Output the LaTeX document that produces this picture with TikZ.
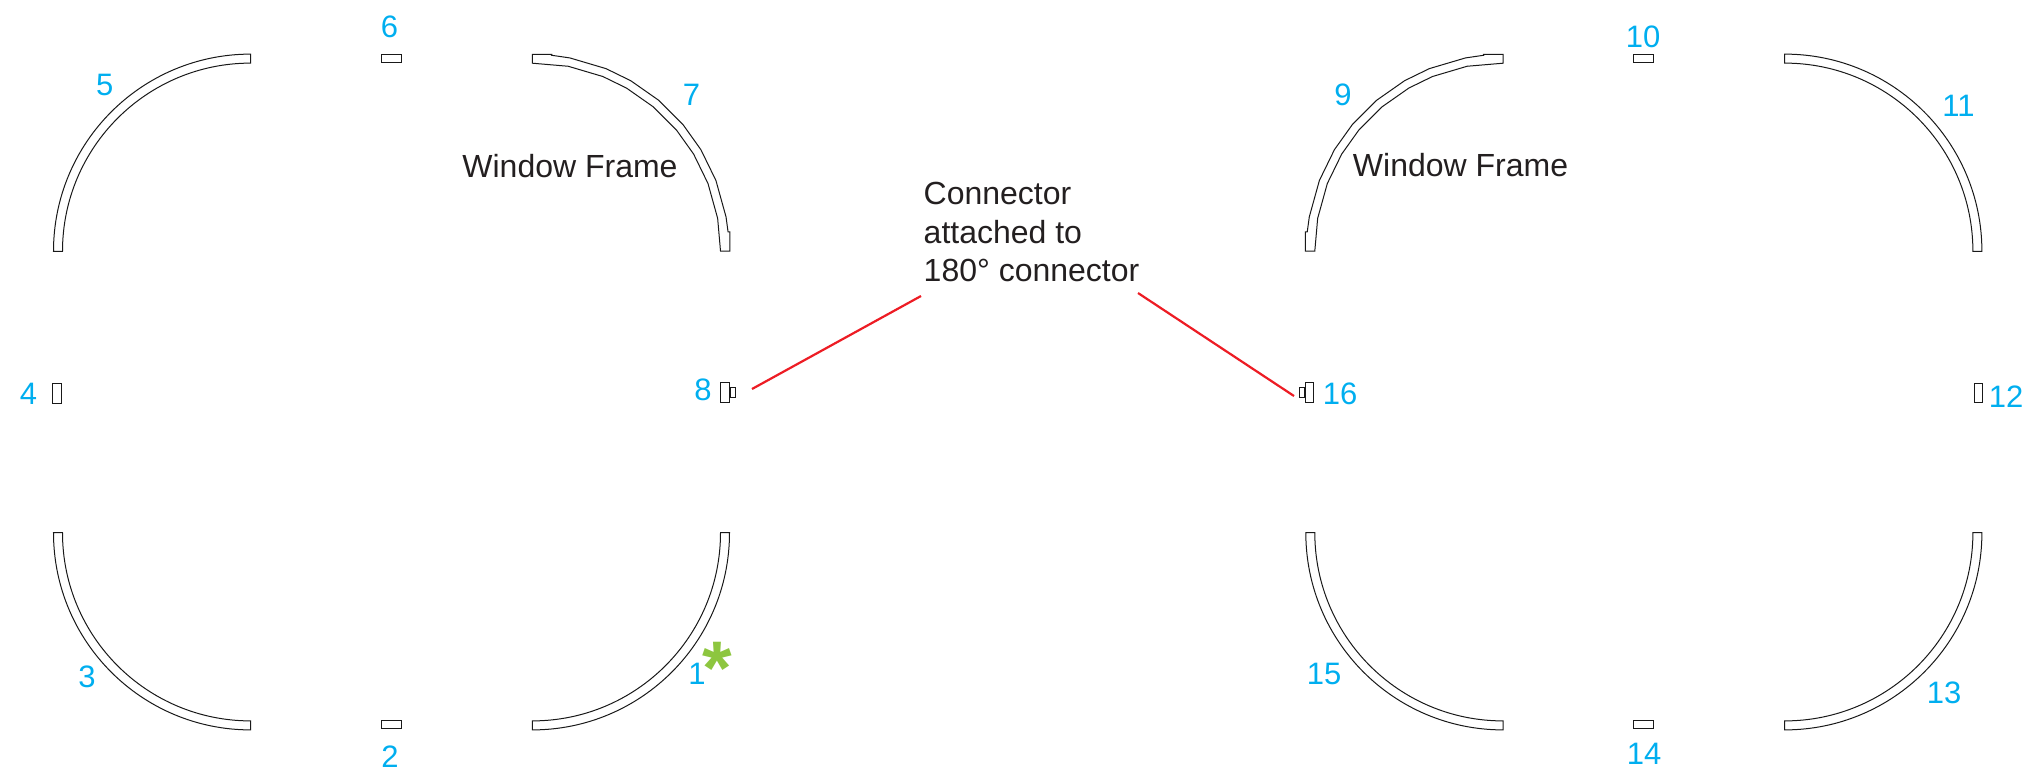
\documentclass[tikz,border=0pt]{standalone}
\usepackage{fontspec}
\setmainfont{Liberation Sans}
\usetikzlibrary{calc}
\definecolor{numc}{HTML}{00AEEF}
\definecolor{txtc}{HTML}{231F20}
\definecolor{redc}{HTML}{ED1C24}
\definecolor{grnc}{HTML}{8DC63F}
\tikzset{
  part/.style={draw=black!90,line width=1pt,fill=white,line join=miter},
  hkey/.style={part,minimum width=19.5pt,minimum height=8.5pt,inner sep=0pt},
  vkey/.style={part,minimum width=8.5pt,minimum height=19.5pt,inner sep=0pt},
  plug/.style={part,minimum width=5.5pt,minimum height=10pt,inner sep=0pt},
  num/.style={text=numc,font=\fontsize{31}{31}\selectfont,inner sep=0pt},
  captext/.style={text=txtc,font=\fontsize{32}{38.5}\selectfont,inner sep=0pt,align=left},
  lead/.style={draw=redc,line width=2.2pt},
}
\newcommand{\qframe}[3]{%
  \draw[part] ($(#1,#2)+(#3:197.2)$) arc[start angle=#3,delta angle=90,radius=197.2]
   -- ($(#1,#2)+(#3+90:188.2)$) arc[start angle=#3+90,delta angle=-90,radius=188.2] -- cycle;}
% faceted quarter frame with two tabs, relative to its centre
\newcommand{\winframe}{%
  \draw[part] (0,-196.6) -- (19.4,-196.6) -- (-84.4:196.7) -- (-79:196.7) -- (-68:196.7) -- (-60:196.7) -- (-50:196.7) -- (-40:196.7) -- (-31:196.7) -- (-21:196.7) -- (-10:196.7) -- (-5.6:196.7) -- (197.6,-19.2) -- (197.6,0) -- (188.2,0) -- (-10:188.2) -- (-21:188.2) -- (-31:188.2) -- (-40:188.2) -- (-50:188.2) -- (-60:188.2) -- (-68:188.2) -- (-79:188.2) -- (0,-187.8) -- cycle;}
\begin{document}
\begin{tikzpicture}[x=1pt,y=-1pt]
\useasboundingbox (0,0) rectangle (2034,772);
% left ring
\begin{scope}[shift={(532.3,251)}]\winframe\end{scope}
\qframe{532.3}{532.7}{0}
\qframe{250.7}{532.7}{90}
\qframe{250.7}{251.3}{180}
% right ring
\qframe{1784.7}{251.3}{-90}
\qframe{1784.7}{532.7}{0}
\qframe{1503}{532.7}{90}
\begin{scope}[shift={(1503,251)},xscale=-1]\winframe\end{scope}
% keys
\node[hkey] (k6) at (391.5,58.7) {};
\node[hkey] (k2) at (391.5,724.7) {};
\node[vkey] (k4) at (57,393.5) {};
\node[vkey] (k8) at (725.2,392.5) {};
\node[plug] (c8) at (732.8,392.2) {};
\node[hkey] (k10) at (1643.5,58.7) {};
\node[hkey] (k14) at (1643.5,724.7) {};
\node[vkey] (k12) at (1978.5,393) {};
\node[vkey] (k16) at (1309.5,392.5) {};
\node[plug] (c16) at (1302,392.2) {};
% numbers
\node[num] (n5) at (104.7,85) {5};
\node[num] (n6) at (389.5,27) {6};
\node[num] (n7) at (691.5,94.5) {7};
\node[num] (n4) at (28.5,394) {4};
\node[num] (n8) at (703,390) {8};
\node[num] (n3) at (87,677) {3};
\node[num] (n2) at (390,757) {2};
\node[num] (n1) at (697,674) {1};
\node[num] (n9) at (1343,94.5) {9};
\node[num] (n10) at (1643,37) {10};
\node[num] (n11) at (1958.5,106) {11};
\node[num] (n12) at (2006,396.5) {12};
\node[num] (n16) at (1340,394) {16};
\node[num] (n15) at (1324,674) {15};
\node[num] (n14) at (1644,753.5) {14};
\node[num] (n13) at (1944,692.5) {13};
\node[text=grnc,font=\fontsize{76}{76}\bfseries\selectfont,inner sep=0pt] (star) at (717.3,668.5) {*};
% captions
\node[captext] (w1) at (570,166) {Window Frame};
\node[captext] (w2) at (1460.5,165) {Window Frame};
\node[captext,anchor=north west] (conn) at (923.5,182) {Connector\\attached to\\180° connector};
% leaders
\coordinate (a1) at (921,296);
\coordinate (a2) at (752,389);
\coordinate (b1) at (1138,293);
\coordinate (b2) at (1294,396);
\draw[lead] (a1) -- (a2);
\draw[lead] (b1) -- (b2);
\end{tikzpicture}
\end{document}
